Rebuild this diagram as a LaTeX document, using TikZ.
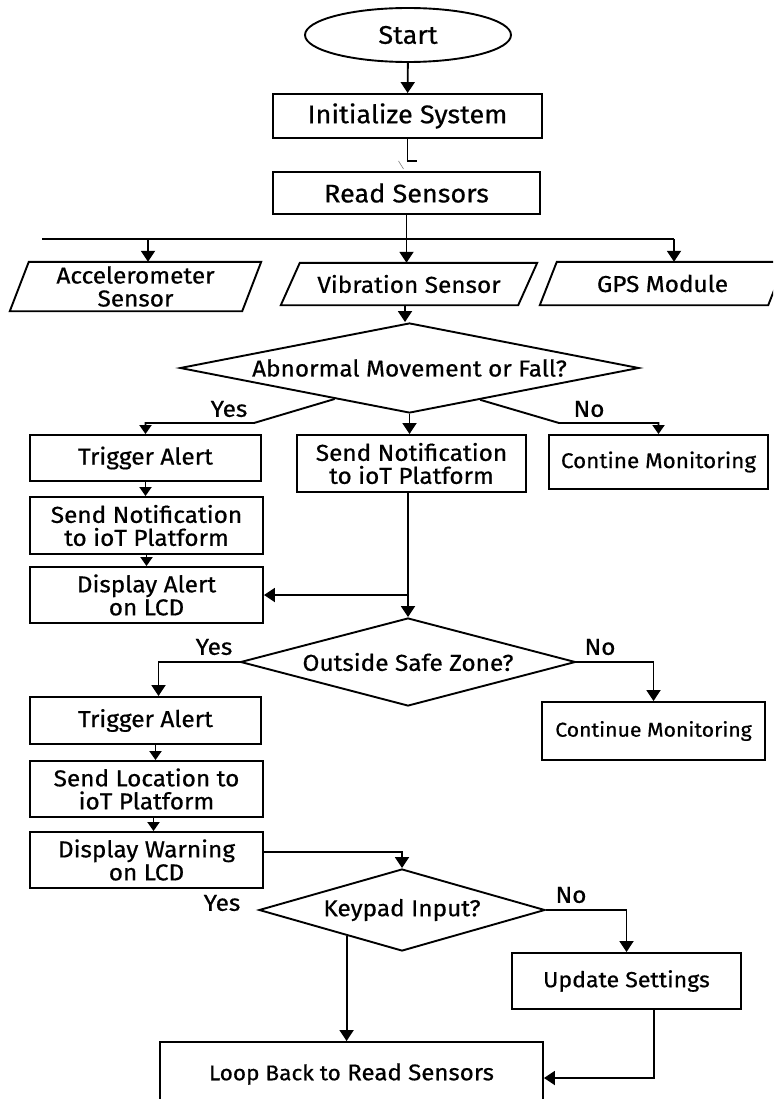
\documentclass[tikz,border=0pt]{standalone}
\usepackage{fontspec}
\setmainfont[FakeStretch=1.06,FakeBold=0.6]{Fira Sans}
\usetikzlibrary{shapes.geometric,arrows.meta,calc}
\newcommand{\fsz}[1]{\fontsize{#1}{23}\selectfont}
\begin{document}
\begin{tikzpicture}[x=1pt,y=-1pt,
  every node/.style={font=\fsz{23}, inner sep=0pt, align=center},
  ln/.style={line width=1.9pt},
  arr/.style={ln, -{Triangle[length=11pt,width=14pt]}},
  sarr/.style={ln, -{Triangle[length=9pt,width=12pt]}},
  proc/.style={draw, rectangle, line width=1.9pt},
  dec/.style={draw, diamond, line width=1.9pt},
  term/.style={draw, ellipse, line width=1.9pt},
  io/.style={rectangle},
  big/.style={font=\fsz{25.5}},
  lbl/.style={}
]
\path[use as bounding box, fill=white] (0,0) rectangle (773,1099);
\clip (0,0) rectangle (773,1099);

% nodes
\node[term, big, minimum width=206, minimum height=54] (start) at (408,35) {Start};
\node[proc, big, minimum width=269, minimum height=44] (init) at (407.5,116) {Initialize System};
\node[proc, big, minimum width=267, minimum height=42] (read) at (406.5,193) {Read Sensors};
\node[io, minimum width=251, minimum height=49] (accel) at (135.5,286.5) {Accelerometer\\Sensor};
\node[io, minimum width=256, minimum height=42] (vib) at (409,284) {Vibration Sensor};
\node[io, minimum width=245, minimum height=43] (gps) at (662.5,283.5) {GPS Module};
\node[dec, aspect=5.1, minimum width=459, minimum height=90] (d1) at (409.5,368) {Abnormal Movement or Fall?};
\node[proc, minimum width=231, minimum height=46] (trig1) at (145.5,458) {Trigger Alert};
\node[proc, minimum width=233, minimum height=57] (notif1) at (146.5,525.5) {Send Notification\\to ioT Platform};
\node[proc, minimum width=233, minimum height=56] (disp1) at (146.5,595) {Display Alert\\on LCD};
\node[proc, minimum width=229, minimum height=57] (notifc) at (411.5,463.5) {Send Notification\\to ioT Platform};
\node[proc, font=\fsz{21.2}, minimum width=219, minimum height=54] (cont1) at (658.5,462) {Contine Monitoring};
\node[dec, aspect=3.8, minimum width=335, minimum height=88] (d2) at (408,662) {Outside Safe Zone?};
\node[proc, minimum width=231, minimum height=47] (trig2) at (145.5,720.5) {Trigger Alert};
\node[proc, minimum width=233, minimum height=56] (loc) at (146.5,789) {Send Location to\\ioT Platform};
\node[proc, minimum width=233, minimum height=56] (warn) at (146.5,860) {Display Warning\\on LCD};
\node[proc, font=\fsz{20}, minimum width=223, minimum height=58] (cont2) at (653.5,731) {Continue Monitoring};
\node[dec, aspect=3.5, minimum width=286, minimum height=82] (d3) at (402,910) {Keypad Input?};
\node[proc, font=\fsz{21.8}, minimum width=229, minimum height=56] (upd) at (626.5,981) {Update Settings};
\node[proc, minimum width=383, minimum height=64] (loop) at (351.5,1074) {{\fsz{21.3}Loop Back to} {\fsz{22.7}Read Sensors}};

% parallelogram outlines
\draw[ln] ([xshift=19]accel.north west) -- (accel.north east) -- ([xshift=-19]accel.south east) -- (accel.south west) -- cycle;
\draw[ln] ([xshift=19]vib.north west) -- (vib.north east) -- ([xshift=-19]vib.south east) -- (vib.south west) -- cycle;
\draw[ln] ([xshift=17]gps.north west) -- (gps.north east) -- ([xshift=-17]gps.south east) -- (gps.south west) -- cycle;

% labels
\node[lbl] (yes1) at (229,409) {Yes};
\node[lbl] (no1) at (589,409) {No};
\node[lbl] (yes2) at (214,647) {Yes};
\node[lbl] (no2) at (600,647) {No};
\node[lbl] (yes3) at (222,903) {Yes};
\node[lbl] (no3) at (571,895) {No};

% connectors
\draw[arr] (start) -- (init);
\draw[ln] (init.south) -- ++(0,22) coordinate (brk);
\draw[ln] ($(brk)+(-1,0)$) -- ++(10,0);
\draw[gray, line width=0.6pt] ($(brk)+(-9,0)$) -- ++(5,8);

\draw[arr] (read.south) -- (read.south |- vib.north);
\coordinate (busL) at (42,239);
\coordinate (busA) at (148,239);
\coordinate (busR) at (674,239);
\draw[ln] (busL) -- (busR);
\draw[arr] (busA) -- (busA |- accel.north);
\draw[arr] (busR) -- (busR |- gps.north);

\coordinate (vibout) at ([xshift=-4pt]vib.south);
\draw[arr] (vibout) -- (vibout |- d1.north);

\coordinate (y1s) at ($(d1.west)!0.675!(d1.south)$);
\coordinate (y1k) at (254,423);
\draw[sarr] (y1s) -- (y1k) -| (trig1.north);
\coordinate (n1s) at ($(d1.east)!0.693!(d1.south)$);
\coordinate (n1k) at (559,423);
\draw[sarr] (n1s) -- (n1k) -| (cont1.north);
\draw[arr] (d1.south) -- (d1.south |- notifc.north);

\draw[sarr] (trig1.south) -- (trig1.south |- notif1.north);
\draw[sarr] (notif1.south) -- (notif1.south |- disp1.north);

\draw[arr] (notifc.south -| d2.north) -- (d2.north);
\coordinate (j1) at (d2.north |- disp1.east);
\draw[arr] (j1) -- (disp1.east);

\draw[arr] (d2.west) -| ($(trig2.north)+(13,0)$);
\draw[arr] (d2.east) -| (cont2.north);
\draw[sarr] ($(trig2.south)+(10,0)$) -- ($(loc.north)+(9,0)$);
\draw[sarr] ($(loc.south)+(7,0)$) -- ($(warn.north)+(7,0)$);

\draw[arr] ([yshift=8pt]warn.east) -| (d3.north);
\coordinate (y3s) at ($(d3.west)!0.615!(d3.south)$);
\draw[arr] (y3s) -- (y3s |- loop.north);
\draw[arr] (d3.east) -| (upd.north);
\draw[arr] ([xshift=27.5pt]upd.south) |- ([yshift=-4pt]loop.east);
\end{tikzpicture}
\end{document}
